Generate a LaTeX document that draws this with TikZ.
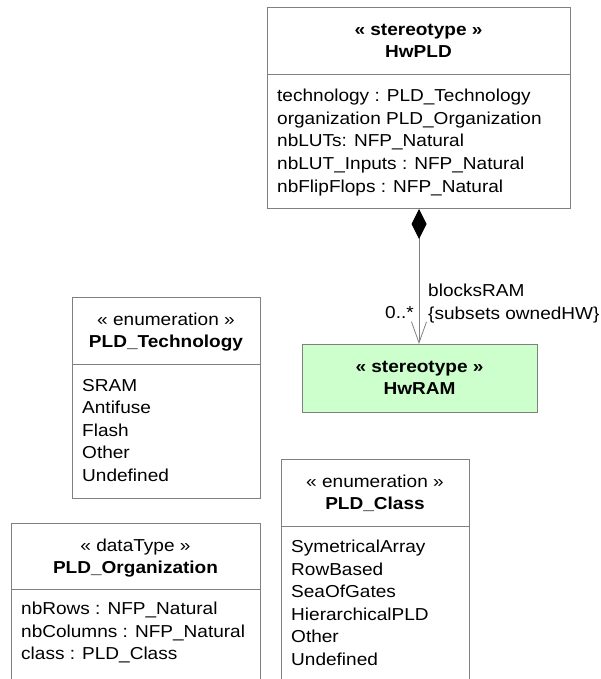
\documentclass[tikz,border=0pt]{standalone}
\usepackage{fontspec}
\setmainfont{Liberation Sans}[FakeStretch=1.1]
\usepackage{tikz}
\usetikzlibrary{arrows.meta}
\definecolor{umlgray}{RGB}{128,128,128}
\definecolor{ramgreen}{RGB}{204,255,204}
\newcommand{\umlsize}{\fontsize{17.3}{22.5}\selectfont}

\begin{document}
\begin{tikzpicture}[x=1pt, y=-1pt,
    umlbox/.style = {draw=umlgray, line width=1pt, rectangle, anchor=north west, inner sep=0pt},
    head/.style = {anchor=base, inner sep=0pt, font=\umlsize},
    headb/.style = {anchor=base, inner sep=0pt, font=\umlsize\bfseries},
    item/.style = {anchor=base west, inner sep=0pt, font=\umlsize},
    assoc/.style = {draw=umlgray, line width=0.8pt,
        {Diamond[length=30pt, width=15pt, black]}-{Straight Barb[length=21pt, width=15pt]}}]
                \useasboundingbox (0,0) rectangle (600,679);

                % HwPLD stereotype
                \node[umlbox, minimum width=303pt, minimum height=201pt] (hwpld) at (267,7) {};
                \draw[umlgray, line width=1pt] (hwpld.west |- 0,75) -- (hwpld.east |- 0,75);
                \node[headb] (hwpld-st) at (418.5,35.5) {« stereotype »};
                \node[headb] (hwpld-nm) at (418.5,58) {HwPLD};
                \foreach \txt [count=\i] in {technology : PLD\_Technology, organization PLD\_Organization,
                    nbLUTs: NFP\_Natural, nbLUT\_Inputs : NFP\_Natural, nbFlipFlops : NFP\_Natural}
                    \node[item] (hwpld-a\i) at (277,102+22.5*\i-22.5) {\txt};

                % HwRAM stereotype
                \node[umlbox, fill=ramgreen, minimum width=235pt, minimum height=68pt] (hwram) at (302,344) {};
                \node[headb] (hwram-st) at (419.5,372) {« stereotype »};
                \node[headb] (hwram-nm) at (419.5,394.5) {HwRAM};

                % Composition HwPLD -> HwRAM
                \draw[assoc] (hwpld.south) -- (hwpld.south |- hwram.north);
                \node[item] (role) at (428,296.5) {blocksRAM};
                \node[item] (role-prop) at (428,319) {\{subsets ownedHW\}};
                \node[anchor=base east, inner sep=0pt, font=\umlsize] (mult) at (414,318) {0..*};

                % PLD_Technology enumeration
                \node[umlbox, minimum width=188pt, minimum height=201pt] (tech) at (72,297) {};
                \draw[umlgray, line width=1pt] (tech.west |- 0,364) -- (tech.east |- 0,364);
                \node[head] (tech-st) at (166,325) {« enumeration »};
                \node[headb] (tech-nm) at (166,347.5) {PLD\_Technology};
                \foreach \txt [count=\i] in {SRAM, Antifuse, Flash, Other, Undefined}
                    \node[item] (tech-\i) at (82,391+22.5*\i-22.5) {\txt};

                % PLD_Organization data type (runs off the bottom)
                \node[umlbox, minimum width=249pt, minimum height=170pt] (org) at (11,523) {};
                \draw[umlgray, line width=1pt] (org.west |- 0,589) -- (org.east |- 0,589);
                \node[head] (org-st) at (135.5,551) {« dataType »};
                \node[headb] (org-nm) at (135.5,573.5) {PLD\_Organization};
                \foreach \txt [count=\i] in {nbRows : NFP\_Natural, nbColumns : NFP\_Natural, class : PLD\_Class}
                    \node[item] (org-\i) at (21,614.5+22.5*\i-22.5) {\txt};

                % PLD_Class enumeration (runs off the bottom)
                \node[umlbox, minimum width=188pt, minimum height=235pt] (cls) at (281,459) {};
                \draw[umlgray, line width=1pt] (cls.west |- 0,526) -- (cls.east |- 0,526);
                \node[head] (cls-st) at (375,487) {« enumeration »};
                \node[headb] (cls-nm) at (375,509.5) {PLD\_Class};
                \foreach \txt [count=\i] in {SymetricalArray, RowBased, SeaOfGates, HierarchicalPLD, Other, Undefined}
                    \node[item] (cls-\i) at (291,552.5+22.5*\i-22.5) {\txt};
            \end{tikzpicture}
\end{document}
